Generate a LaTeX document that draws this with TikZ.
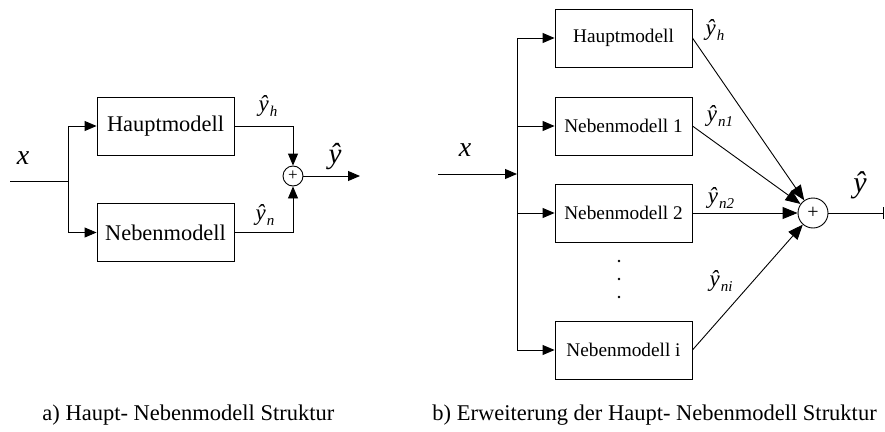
\documentclass[tikz,border=0pt]{standalone}
\usepackage{fontspec}
\setmainfont{Liberation Serif}
\usetikzlibrary{arrows.meta}

% estimated output with an italic subscript
\newcommand{\esty}[1]{\textit{ŷ}\kern1pt\raisebox{-5pt}{\fontsize{15}{15}\selectfont\textit{#1}}}

\tikzset{
  modelbox/.style={draw, minimum width=137pt, minimum height=58pt, inner sep=0pt},
  sumnode/.style={draw, circle, inner sep=0pt},
  tip/.style={-{Triangle[length=12pt,width=10pt]}},
  bigtip/.style={-{Triangle[length=15pt,width=12pt]}},
  bartip/.style={-{Bar[width=12pt]}},
  lbl/.style={inner sep=0pt},
  sublbl/.style={lbl, font=\fontsize{23}{23}\selectfont},
  dotnode/.style={circle, fill, inner sep=0pt, minimum size=2.8pt},
  caption/.style={inner sep=0pt, anchor=base west, font=\fontsize{22.5}{24}\selectfont},
}

\begin{document}
\begin{tikzpicture}[x=1pt, y=-1pt, line width=0.9pt]
\useasboundingbox (0,0) rectangle (885,431);
\fill[white] (0,0) rectangle (885,431);

% ---------- a) main and secondary model in parallel ----------
\node[modelbox, font=\fontsize{22.4}{24}\selectfont] (ha) at (165.5,126) {Hauptmodell};
\node[modelbox, font=\fontsize{22.4}{24}\selectfont] (na) at (165.5,232.5) {Nebenmodell};
\node[sumnode, minimum size=20pt, font=\fontsize{17}{17}\selectfont] (sa) at (293,176) {+};
\coordinate (ina) at (10,181);
\coordinate (ja) at (68,181);
\coordinate (outa) at (360,176);

\draw (ina) -- (ja);
\draw[tip] (ja) |- (ha.west);
\draw[tip] (ja) |- (na.west);
\draw[tip] (ha.east) -| (sa.north);
\draw[tip] (na.east) -| (sa.south);
\draw[tip] (sa.east) -- (outa);

\node[lbl, font=\fontsize{28}{28}\selectfont] (xa) at (23,158) {\textit{x}};
\node[sublbl] (yha) at (268,106) {\esty{h}};
\node[sublbl] (yna) at (265,215) {\esty{n}};
\node[lbl, font=\fontsize{29}{29}\selectfont] (ya) at (335,157) {\textit{ŷ}};

% ---------- b) extension with several secondary models ----------
\node[modelbox, font=\fontsize{19.3}{21}\selectfont] (hb) at (623.5,38) {Hauptmodell};
\node[modelbox, font=\fontsize{19.3}{21}\selectfont] (n1) at (623.5,126) {Nebenmodell 1};
\node[modelbox, font=\fontsize{19.3}{21}\selectfont] (n2) at (623.5,213) {Nebenmodell 2};
\node[modelbox, font=\fontsize{19.3}{21}\selectfont] (ni) at (623.5,350) {Nebenmodell i};
\node[sumnode, minimum size=30pt, font=\fontsize{20}{20}\selectfont] (sb) at (813,213) {+};
\coordinate (inb) at (438,174);
\coordinate (jb) at (517,174);
\coordinate (outb) at (884,213);

\draw[tip] (inb) -- (jb);
\draw[tip] (jb) |- (hb.west);
\draw[tip] (jb) |- (n1.west);
\draw[tip] (jb) |- (n2.west);
\draw[tip] (jb) |- (ni.west);
\draw[bigtip] (hb.east) -- (sb);
\draw[bigtip] (n1.east) -- (sb);
\draw[bigtip] (n2.east) -- (sb);
\draw[bigtip] (ni.east) -- (sb);
\draw[bartip] (sb.east) -- (outb);

\node[dotnode] (d1) at (619,261) {};
\node[dotnode] (d2) at (619,279) {};
\node[dotnode] (d3) at (619,297) {};

\node[lbl, font=\fontsize{28}{28}\selectfont] (xb) at (465,150) {\textit{x}};
\node[sublbl] (yhb) at (715,30) {\esty{h}};
\node[sublbl] (yn1) at (720,116) {\esty{n1}};
\node[sublbl] (yn2) at (721,198) {\esty{n2}};
\node[sublbl] (yni) at (721,281) {\esty{ni}};
\node[lbl, font=\fontsize{30}{30}\selectfont] (yb) at (860,185) {\textit{ŷ}};

% ---------- captions ----------
\node[caption] (capa) at (42,420) {a) Haupt- Nebenmodell Struktur};
\node[caption] (capb) at (432,420) {b) Erweiterung der Haupt- Nebenmodell Struktur};
\end{tikzpicture}
\end{document}
